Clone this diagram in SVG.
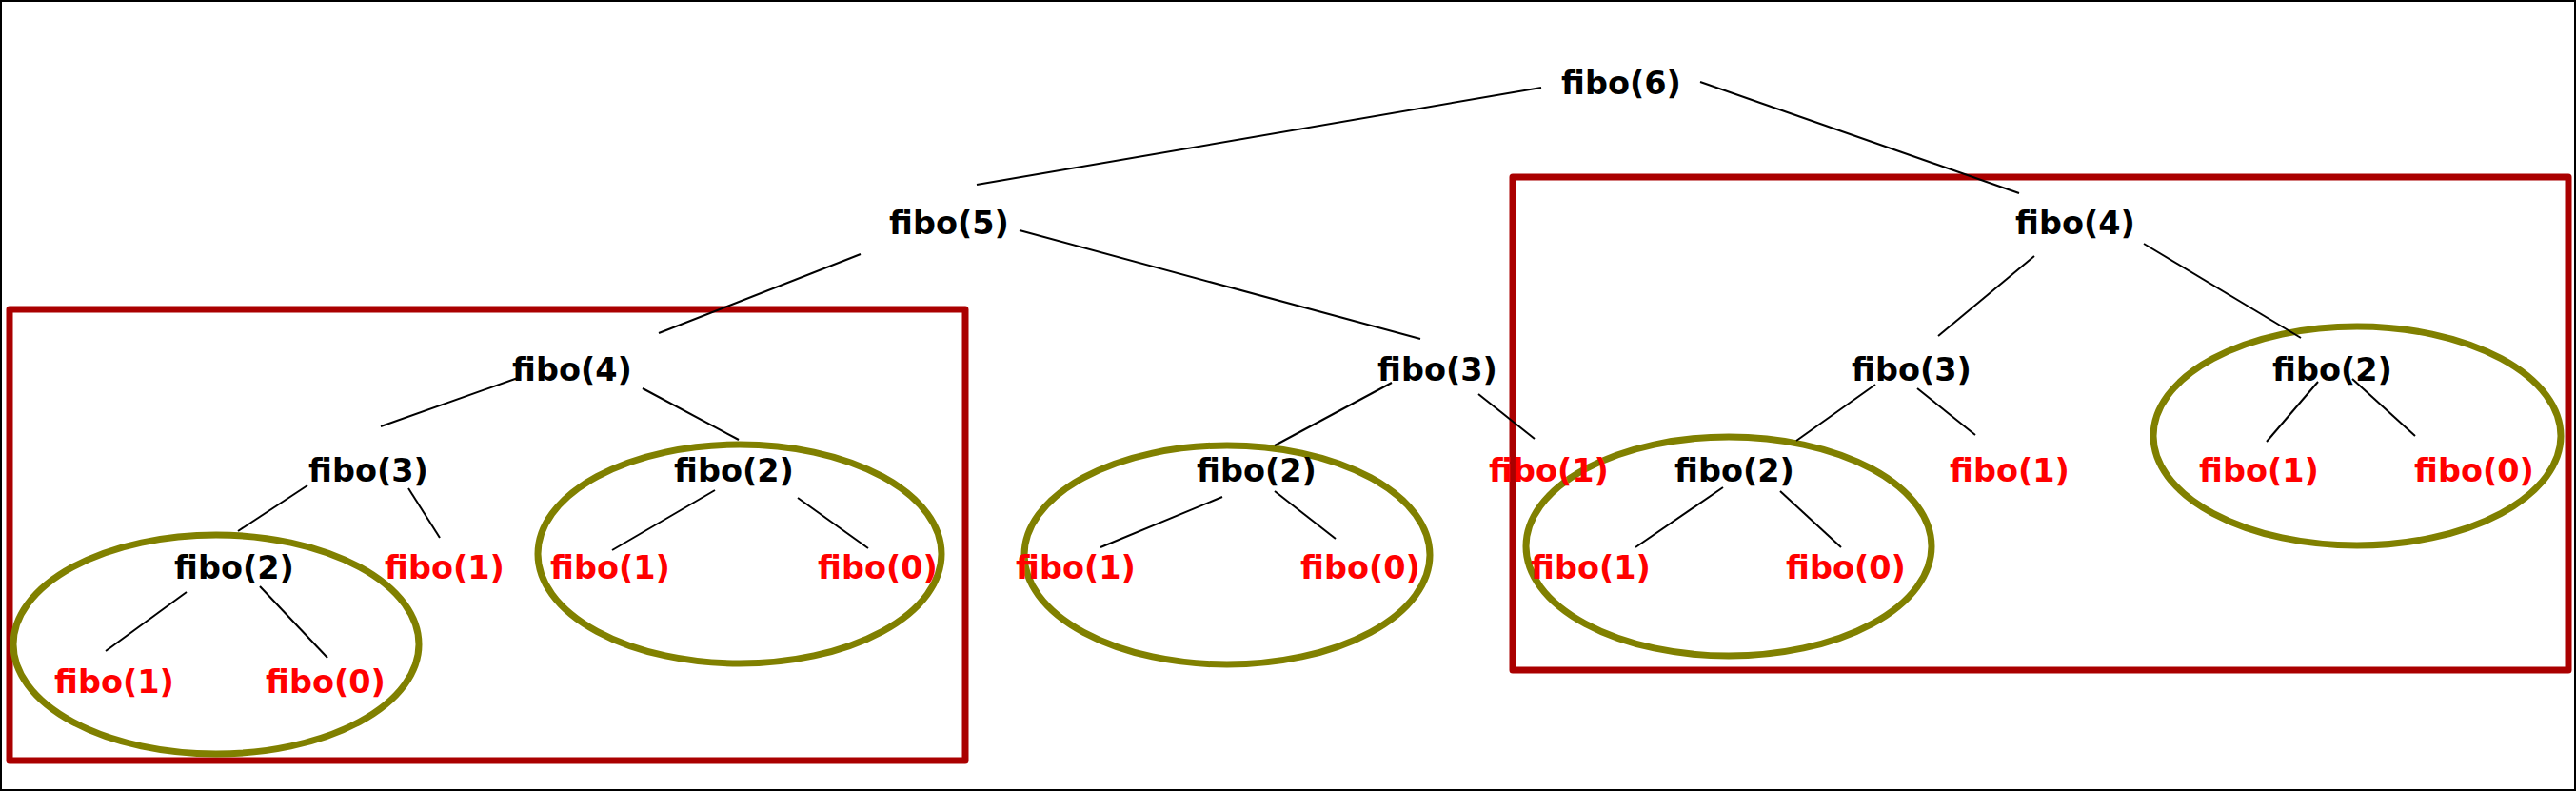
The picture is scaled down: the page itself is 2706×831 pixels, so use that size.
<svg xmlns="http://www.w3.org/2000/svg" width="2706" height="831" viewBox="0 0 2706 831">
<style>
text{font-family:"DejaVu Sans","Liberation Sans",sans-serif;font-weight:bold;font-size:33.5px;text-anchor:middle}
.n{fill:#000}
.l{fill:#ff0000}
.e{fill:none;stroke:#808000;stroke-width:7}
.b{fill:none;stroke:#aa0000;stroke-width:7;stroke-linejoin:round}
#edges line{stroke:#000;stroke-width:2}
</style>
<rect x="0" y="0" width="2706" height="831" fill="#fff"/>
<rect x="1" y="1" width="2704" height="829" fill="none" stroke="#000" stroke-width="2"/>
<g id="groups">
<rect class="b" x="10" y="325" width="1004" height="474"/>
<rect class="b" x="1589" y="186" width="1109" height="518"/>
<ellipse class="e" cx="227" cy="677" rx="213" ry="115"/>
<ellipse class="e" cx="777" cy="582" rx="212" ry="115"/>
<ellipse class="e" cx="1289" cy="583" rx="213" ry="115"/>
<ellipse class="e" cx="1816" cy="574" rx="213" ry="115"/>
<ellipse class="e" cx="2476" cy="458" rx="214" ry="115"/>
</g>
<g id="edges">
<line x1="1619" y1="92" x2="1026" y2="194"/>
<line x1="1786" y1="86" x2="2121" y2="203"/>
<line x1="904" y1="267" x2="692" y2="350"/>
<line x1="1071" y1="242" x2="1492" y2="356"/>
<line x1="544" y1="397" x2="400" y2="448"/>
<line x1="675" y1="408" x2="776" y2="462"/>
<line x1="323" y1="510" x2="250" y2="558"/>
<line x1="429" y1="513" x2="462" y2="565"/>
<line x1="196" y1="622" x2="111" y2="684"/>
<line x1="273" y1="616" x2="344" y2="691"/>
<line x1="751" y1="515" x2="643" y2="578"/>
<line x1="838" y1="523" x2="912" y2="576"/>
<line x1="1462" y1="402" x2="1339" y2="468"/>
<line x1="1553" y1="414" x2="1612" y2="461"/>
<line x1="1284" y1="522" x2="1156" y2="575"/>
<line x1="1339" y1="516" x2="1403" y2="566"/>
<line x1="1970" y1="404" x2="1887" y2="463"/>
<line x1="2014" y1="408" x2="2075" y2="457"/>
<line x1="1810" y1="512" x2="1718" y2="575"/>
<line x1="1870" y1="516" x2="1934" y2="575"/>
<line x1="2137" y1="269" x2="2036" y2="353"/>
<line x1="2252" y1="256" x2="2417" y2="355"/>
<line x1="2435" y1="401" x2="2381" y2="464"/>
<line x1="2471" y1="398" x2="2537" y2="458"/>
</g>
<g id="f6"><text class="n" x="1703" y="99">fibo(6)</text></g>
<g id="f5"><text class="n" x="997" y="246">fibo(5)</text></g>
<g id="f4a"><text class="n" x="2180" y="246">fibo(4)</text></g>
<g id="f4b"><text class="n" x="601" y="400">fibo(4)</text></g>
<g id="f3a"><text class="n" x="1510" y="400">fibo(3)</text></g>
<g id="f3b"><text class="n" x="2008" y="400">fibo(3)</text></g>
<g id="f2a"><text class="n" x="2450" y="400">fibo(2)</text></g>
<g id="f3c"><text class="n" x="387" y="506">fibo(3)</text></g>
<g id="f2b"><text class="n" x="771" y="506">fibo(2)</text></g>
<g id="f2c"><text class="n" x="1320" y="506">fibo(2)</text></g>
<g id="f1a"><text class="l" x="1627" y="506">fibo(1)</text></g>
<g id="f2d"><text class="n" x="1822" y="506">fibo(2)</text></g>
<g id="f1b"><text class="l" x="2111" y="506">fibo(1)</text></g>
<g id="f1c"><text class="l" x="2373" y="506">fibo(1)</text></g>
<g id="f0a"><text class="l" x="2599" y="506">fibo(0)</text></g>
<g id="f2e"><text class="n" x="246" y="608">fibo(2)</text></g>
<g id="f1d"><text class="l" x="467" y="608">fibo(1)</text></g>
<g id="f1e"><text class="l" x="641" y="608">fibo(1)</text></g>
<g id="f0b"><text class="l" x="922" y="608">fibo(0)</text></g>
<g id="f1f"><text class="l" x="1130" y="608">fibo(1)</text></g>
<g id="f0c"><text class="l" x="1429" y="608">fibo(0)</text></g>
<g id="f1g"><text class="l" x="1671" y="608">fibo(1)</text></g>
<g id="f0d"><text class="l" x="1939" y="608">fibo(0)</text></g>
<g id="f1h"><text class="l" x="120" y="728">fibo(1)</text></g>
<g id="f0e"><text class="l" x="342" y="728">fibo(0)</text></g>
</svg>
